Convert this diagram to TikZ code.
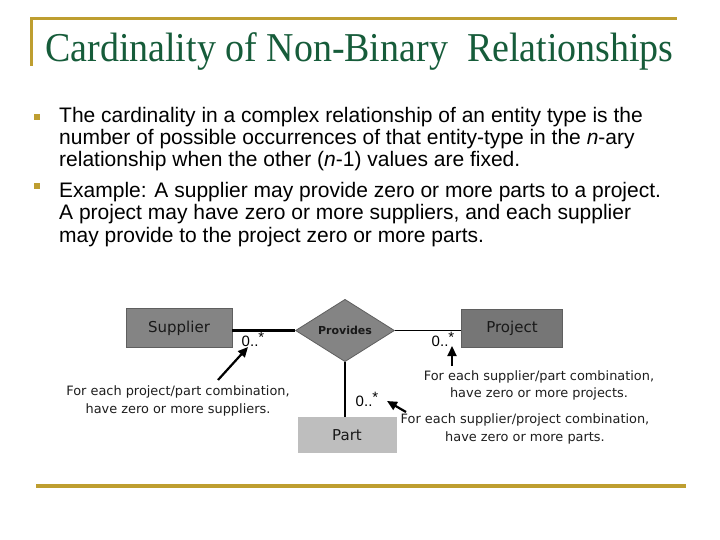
\documentclass[tikz,border=0pt]{standalone}
\usepackage{fontspec}
\setmainfont{Liberation Sans}
\newfontfamily\titlefont{Liberation Serif}
\newfontfamily\annfont{DejaVu Sans}
\usetikzlibrary{shapes.geometric,arrows.meta}
\definecolor{gold}{RGB}{190,158,48}
\definecolor{tgreen}{RGB}{22,92,58}
\definecolor{boxdark}{RGB}{132,132,132}
\definecolor{boxproj}{RGB}{118,118,118}
\definecolor{boxlight}{RGB}{190,190,190}
\definecolor{boxedge}{RGB}{95,95,95}
\definecolor{anngray}{RGB}{30,30,30}
\tikzset{
  rule/.style={gold, line width=3pt},
  bodyline/.style={anchor=base west, inner sep=0pt, font=\fontsize{21}{22}\selectfont},
  bulletsq/.style={fill=gold, minimum size=6.5pt, inner sep=0pt},
  entity/.style={draw=boxedge, line width=0.8pt, minimum width=106pt, minimum height=39pt, inner sep=0pt, font=\annfont\fontsize{15}{15}\selectfont, text=black!90},
  mult/.style={inner sep=0pt, font=\fontsize{15}{15}\selectfont},
  ann/.style={align=center, inner sep=0pt, text=anngray, font=\annfont\fontsize{12.9}{17.5}\selectfont},
  pointer/.style={line width=2.2pt, -{Triangle[length=10pt,width=9pt]}},
}
\begin{document}
\begin{tikzpicture}[x=1pt,y=-1pt]
\useasboundingbox (0,0) rectangle (720,540);
\fill[white] (0,0) rectangle (720,540);
% title rules
\draw[rule] (31,66) -- (31,18.5) -- (677,18.5);
\draw[rule, line width=3.5pt] (36,486) -- (686,486);
% title
\node[anchor=base west, inner sep=0pt, text=tgreen] (title) at (45,62)
  {\scalebox{0.926}[1]{\titlefont\fontsize{41}{41}\selectfont Cardinality of Non-Binary\ \ Relationships}};
% bullets
\node[bulletsq] (b1) at (37,117) {};
\node[bulletsq] (b2) at (37,186) {};
\node[bodyline] (l1) at (59,123) {The cardinality in a complex relationship of an entity type is the};
\node[bodyline] (l2) at (59,145) {number of possible occurrences of that entity-type in the \textit{n}-ary};
\node[bodyline] (l3) at (59,167) {relationship when the other (\textit{n}-1) values are fixed.};
\node[bodyline] (l4) at (59,197) {Example: A supplier may provide zero or more parts to a project.};
\node[bodyline] (l5) at (59,220) {A project may have zero or more suppliers, and each supplier};
\node[bodyline] (l6) at (59,243) {may provide to the project zero or more parts.};
% diagram
\node[entity, fill=boxdark] (sup) at (179,328) {Supplier};
\node[entity, fill=boxproj, minimum width=101pt, minimum height=38pt] (proj) at (512,328) {Project};
\node[entity, draw=none, fill=boxlight, minimum width=99pt, minimum height=36pt] (part) at (347,435) {Part};
\node[diamond, draw=boxedge, line width=0.8pt, fill=boxdark, minimum width=99pt, minimum height=56pt, inner sep=0pt, font=\annfont\bfseries\fontsize{11}{11}\selectfont, text=black!90] (prov) at (345,330.5) {Provides};
\draw[line width=2.8pt] (prov.west) -- (prov.west -| sup.east);
\draw[line width=1.3pt] (prov.east) -- (prov.east -| proj.west);
\draw[line width=2pt] (prov.south) -- (prov.south |- part.north);
% multiplicities
\node[mult] (m1) at (253,339) {0..\raisebox{4pt}{*}};
\node[mult] (m2) at (443,339) {0..\raisebox{4pt}{*}};
\node[mult] (m3) at (367,399) {0..\raisebox{4pt}{*}};
% annotations
\node[ann] (a1) at (178,401) {For each project/part combination,\\have zero or more suppliers.};
\node[ann] (a2) at (539,385.5) {For each supplier/part combination,\\have zero or more projects.};
\node[ann] (a3) at (525,429) {For each supplier/project combination,\\have zero or more parts.};
\coordinate (t1) at (218,380);
\coordinate (h1) at (248,347);
\coordinate (t2) at (452,366);
\coordinate (h2) at (452,346);
\coordinate (t3) at (406,412);
\coordinate (h3) at (387,401);
\draw[pointer] (t1) -- (h1);
\draw[pointer] (t2) -- (h2);
\draw[pointer] (t3) -- (h3);
\end{tikzpicture}
\end{document}
